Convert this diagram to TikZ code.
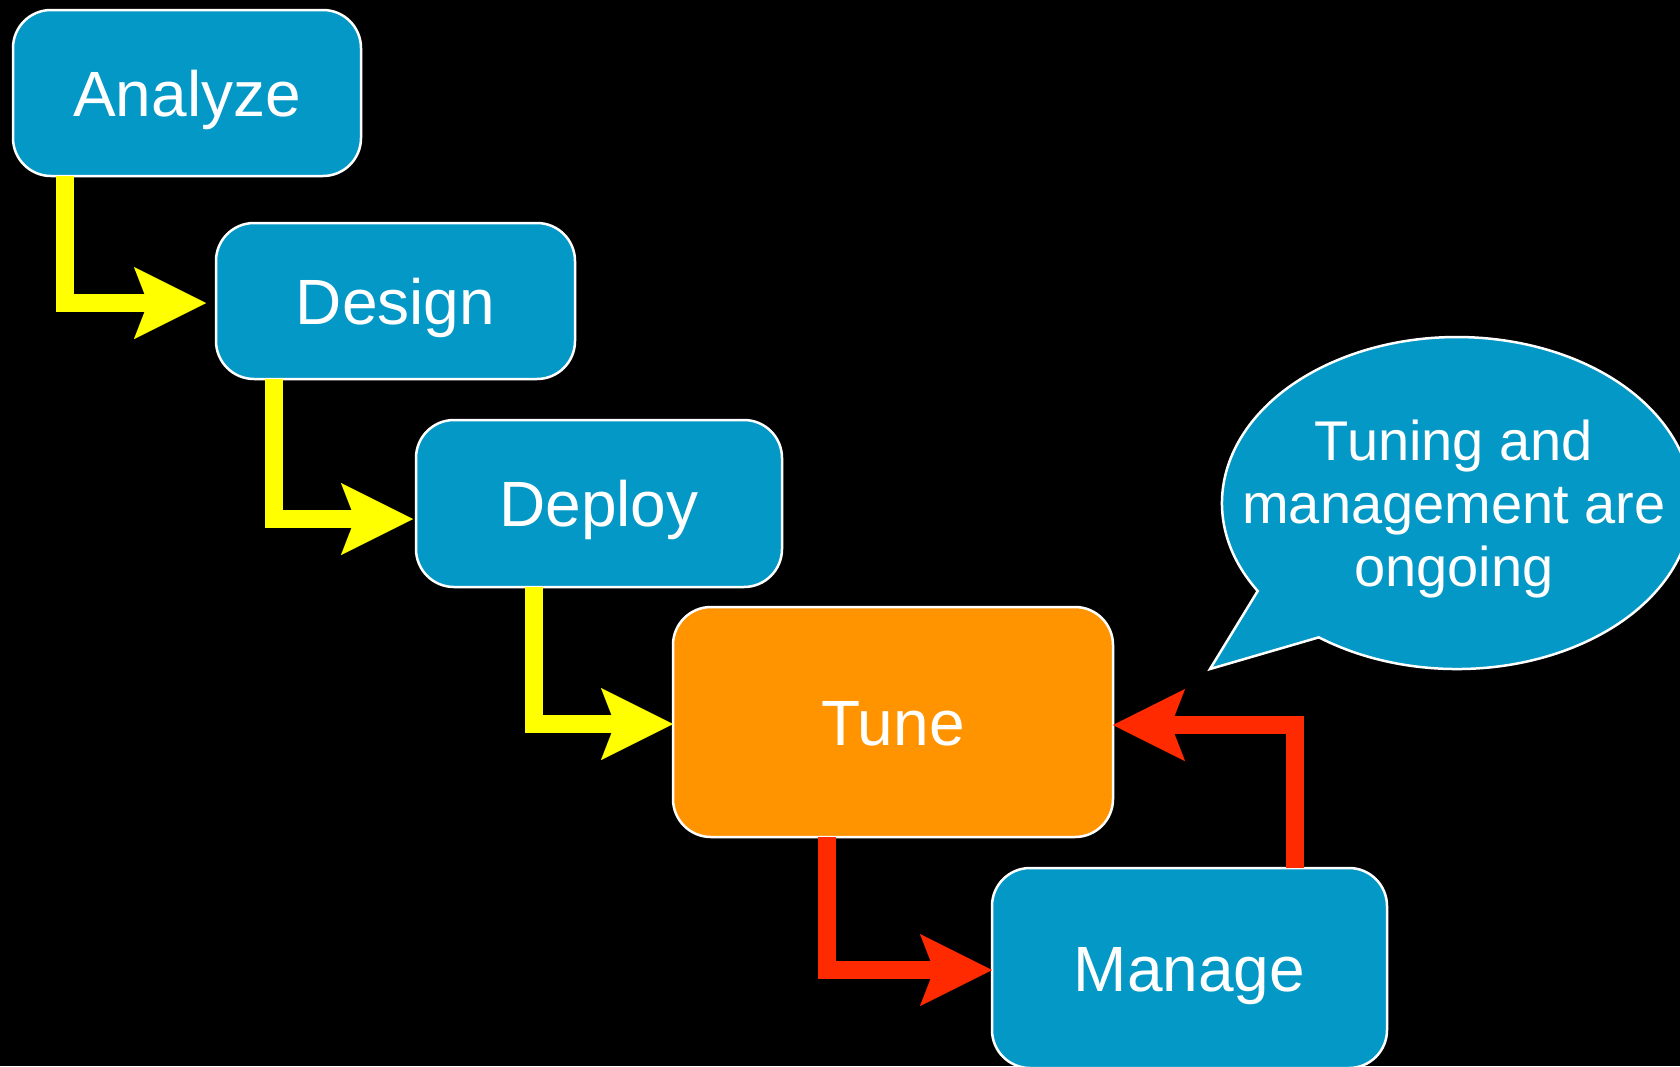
\documentclass[tikz,border=0pt]{standalone}
\usepackage{fontspec}
\setmainfont{Liberation Sans}
\usetikzlibrary{arrows.meta}
\definecolor{boxblue}{HTML}{0398C5}
\definecolor{boxorange}{HTML}{FF9400}
\definecolor{arrowyellow}{HTML}{FFFF00}
\definecolor{arrowred}{HTML}{FF2A00}
\begin{document}
\begin{tikzpicture}[x=1pt,y=-1pt,
  stage/.style={draw=white, line width=2.5pt, rounded corners=38pt, inner sep=0pt, outer sep=0pt, text=white, text height=46pt, text depth=0pt, font=\fontsize{64}{70}\selectfont},
  bluestage/.style={stage, fill=boxblue},
  flow/.style={line width=18pt, line join=miter, line cap=butt, -{Stealth[length=72pt,width=72pt,inset=14pt,line width=0.01pt]}},
  yflow/.style={flow, draw=arrowyellow},
  rflow/.style={flow, draw=arrowred},
]
\fill[black] (0,0) rectangle (1680,1066);
\useasboundingbox (0,0) rectangle (1680,1066);
\clip (0,0) rectangle (1680,1066);

\node[bluestage, minimum width=348pt, minimum height=166pt] (analyze) at (187,93) {Analyze};
\node[bluestage, minimum width=359pt, minimum height=156pt] (design) at (395.5,301) {Design};
\node[bluestage, minimum width=366pt, minimum height=167pt] (deploy) at (599,503.5) {Deploy};
\node[stage, fill=boxorange, minimum width=440pt, minimum height=230pt] (tune) at (893,722) {Tune};
\node[bluestage, minimum width=395pt, minimum height=200pt] (manage) at (1189.5,968) {Manage};

\draw[yflow, shorten >=10pt] ([xshift=52pt]analyze.south west) |- ([yshift=-2pt]design.west);
\draw[yflow, shorten >=3pt] ([xshift=58pt]design.south west) |- ([yshift=-15.5pt]deploy.west);
\draw[yflow] ([xshift=118pt]deploy.south west) |- ([yshift=-2pt]tune.west);
\draw[rflow] ([xshift=154pt]tune.south west) |- ([yshift=-2pt]manage.west);
\draw[rflow] ([xshift=303pt]manage.north west) |- ([yshift=-3pt]tune.east);

\filldraw[fill=boxblue, draw=white, line width=2.5pt, line join=miter]
  (1257.7,591) arc[start angle=212, end angle=-126, x radius=235pt, y radius=166pt] -- (1210,669) -- cycle;
\node[text=white, align=center, font=\fontsize{56}{63}\selectfont, inner sep=0pt] (note) at (1454,509) {Tuning and\\management are\\ongoing};
\end{tikzpicture}
\end{document}
